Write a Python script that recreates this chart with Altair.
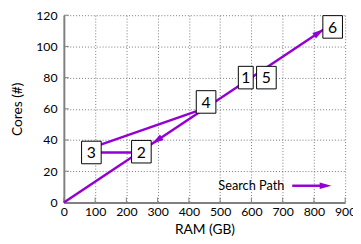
import altair as alt
import pandas as pd

# ---- data ----
labels = ["1", "2", "3", "4", "5", "6"]
label_ram = [582, 248, 88, 455, 648, 860]
label_cores = [80, 32.5, 32, 64.4, 80, 112.5]

seg_ram_start = [0, 88, 88]
seg_cores_start = [0, 35, 32]
seg_ram_end = [832, 455, 248]
seg_cores_end = [111, 60.6, 32]

arrow_ram = [832, 282]
arrow_cores = [111, 37.6]
arrow_angle = [56.2, 236.2]

x_ticks = list(range(0, 901, 100))
y_ticks = list(range(0, 121, 20))

PURPLE = "#9400D3"
FONT = "Lato"
W, H = 287, 191

xs = alt.Scale(domain=[0, 900], nice=False, zero=False)
ys = alt.Scale(domain=[0, 120], nice=False, zero=False)


def xenc(field):
    return alt.X(field, type="quantitative", scale=xs,
                 axis=alt.Axis(title="RAM (GB)", values=x_ticks, format="d",
                               labelOverlap=False, labelFlush=False))


def yenc(field):
    return alt.Y(field, type="quantitative", scale=ys,
                 axis=alt.Axis(title="Cores (#)", values=y_ticks, format="d",
                               labelOverlap=False, labelFlush=False))


seg_df = pd.DataFrame({"ram": seg_ram_start, "cores": seg_cores_start,
                       "ram2": seg_ram_end, "cores2": seg_cores_end})
arr_df = pd.DataFrame({"ram": arrow_ram, "cores": arrow_cores, "angle": arrow_angle})
lab_df = pd.DataFrame({"ram": label_ram, "cores": label_cores, "lab": labels})
xt_df = pd.DataFrame({"ram": x_ticks})
yt_df = pd.DataFrame({"cores": y_ticks})

ARROW = "M0,0L0.55,2L-0.55,2Z"
BOX = "M-0.87,-1L0.87,-1L0.87,1L-0.87,1Z"
BOX_NARROW = "M-0.66,-1L0.66,-1L0.66,1L-0.66,1Z"

segments = alt.Chart(seg_df).mark_rule(color=PURPLE, strokeWidth=2.5).encode(
    x=xenc("ram"), y=yenc("cores"), x2="ram2", y2="cores2")

arrows = alt.Chart(arr_df).mark_point(
    shape=ARROW, filled=True, color=PURPLE, size=144, opacity=1).encode(
    x=xenc("ram"), y=yenc("cores"), angle=alt.Angle("angle:Q", scale=None))

boxes = alt.Chart(lab_df).mark_point(
    fill="white", stroke="black", strokeWidth=1, size=529, opacity=1, filled=False).encode(
    x=xenc("ram"), y=yenc("cores"),
    shape=alt.Shape("lab:N", scale=alt.Scale(
        domain=labels, range=[BOX_NARROW, BOX, BOX, BOX, BOX, BOX]), legend=None),
    fill=alt.value("white"))

texts = alt.Chart(lab_df).mark_text(font=FONT, fontSize=16, color="black",
                                    baseline="middle", align="center", dy=1).encode(
    x=xenc("ram"), y=yenc("cores"), text="lab:N")

xticks = alt.Chart(xt_df).mark_rule(color="#808080", strokeWidth=1).encode(
    x=xenc("ram"), y=alt.value(H), y2=alt.value(H - 5))
yticks = alt.Chart(yt_df).mark_rule(color="#808080", strokeWidth=1).encode(
    y=yenc("cores"), x=alt.value(0), x2=alt.value(5))

leg_text = alt.Chart(pd.DataFrame({"t": ["Search Path"]})).mark_text(
    font=FONT, fontSize=13, align="right", baseline="middle", color="black").encode(
    x=alt.value(225), y=alt.value(174), text="t:N")
leg_line = alt.Chart(pd.DataFrame({"t": ["Search Path"]})).mark_rule(
    color=PURPLE, strokeWidth=2.5).encode(
    x=alt.value(233), x2=alt.value(265), y=alt.value(174))
leg_arrow = alt.Chart(pd.DataFrame({"t": ["Search Path"]})).mark_point(
    shape=ARROW, filled=True, color=PURPLE, size=144, opacity=1, angle=90).encode(
    x=alt.value(273), y=alt.value(174))

chart = alt.layer(
    xticks, yticks, segments, arrows, boxes, texts, leg_text, leg_line, leg_arrow
).properties(
    width=W, height=H,
    autosize=alt.AutoSizeParams(type="none"),
    padding={"left": 57, "top": 5, "right": 8, "bottom": 36},
).configure_view(stroke=None).configure_axis(
    domainColor="#808080", domainWidth=2, ticks=False,
    grid=True, gridColor="#777777", gridDash=[1, 2], gridWidth=1,
    labelFont=FONT, labelFontSize=12.5, labelColor="black",
    titleFont=FONT, titleFontSize=14, titleFontWeight="normal", titleColor="black",
).configure_axisX(labelPadding=3, titlePadding=5
).configure_axisY(labelPadding=7, titlePadding=11)

chart.save("out.html", embed_options={"renderer": "svg", "actions": False})
